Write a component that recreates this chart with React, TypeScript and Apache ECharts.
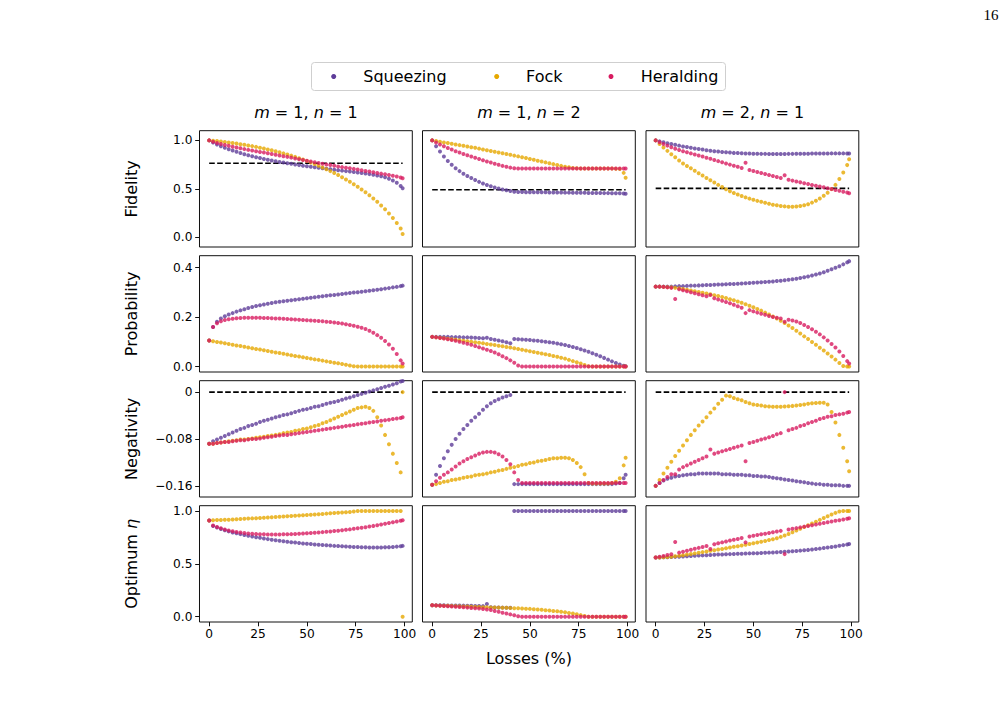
import React, { useEffect, useRef } from "react";
import * as echarts from "echarts";

// Losses (%) at which every series is sampled
const LOSSES = [0,2,4,6,8,10,12,14,16,18,20,22,24,26,28,30,32,34,36,38,40,42,44,46,48,50,52,54,56,58,60,62,64,66,68,70,72,74,76,78,80,82,84,86,88,90,92,94,96,98,99];

const X_TICKS = [0, 25, 50, 75, 100];
const FID_TICKS = [0, 0.5, 1.0];
const PROB_TICKS = [0, 0.2, 0.4];
const NEG_TICKS = [-0.16, -0.08, 0];
const ETA_TICKS = [0, 0.5, 1.0];

const COL_TITLES = [["1", "1"], ["1", "2"], ["2", "1"]];
const SERIES_NAMES = ["Squeezing", "Fock", "Heralding"];
const SERIES_COLORS = ["#5e3c99", "#e6a800", "#d81b60"];
const FID_THRESHOLDS = [0.764, 0.49, 0.505];
const NEG_THRESHOLDS = [0, 0, 0];

// ---------- Fidelity ----------
const fid_sq_1 = [1.000,0.978,0.958,0.940,0.924,0.909,0.895,0.882,0.869,0.857,
0.846,0.836,0.827,0.818,0.809,0.800,0.792,0.785,0.778,0.771,
0.764,0.758,0.751,0.745,0.739,0.733,0.728,0.723,0.718,0.713,
0.708,0.703,0.698,0.693,0.688,0.683,0.678,0.673,0.668,0.663,
0.658,0.652,0.646,0.638,0.630,0.619,0.605,0.587,0.563,0.530,0.507];
const fid_fo_1 = [1.000,0.997,0.993,0.989,0.984,0.979,0.973,0.967,0.961,0.955,
0.948,0.941,0.933,0.925,0.916,0.907,0.898,0.888,0.877,0.866,
0.855,0.843,0.830,0.816,0.802,0.787,0.771,0.755,0.738,0.720,
0.702,0.683,0.663,0.642,0.620,0.597,0.573,0.548,0.522,0.494,
0.465,0.434,0.401,0.366,0.329,0.289,0.246,0.199,0.148,0.090,0.035];
const fid_he_1 = [1.000,0.986,0.974,0.963,0.953,0.944,0.935,0.926,0.918,0.910,
0.902,0.895,0.888,0.881,0.874,0.867,0.860,0.852,0.845,0.837,
0.830,0.822,0.814,0.806,0.798,0.790,0.782,0.774,0.766,0.759,
0.752,0.745,0.738,0.731,0.724,0.718,0.712,0.706,0.699,0.692,
0.685,0.678,0.671,0.664,0.657,0.650,0.643,0.635,0.627,0.618,0.610];
const fid_sq_2 = [1.000,0.940,0.886,0.834,0.788,0.748,0.713,0.683,0.656,0.633,
0.611,0.591,0.572,0.555,0.540,0.527,0.515,0.504,0.494,0.485,
0.477,0.470,0.468,0.467,0.466,0.466,0.465,0.465,0.464,0.464,
0.463,0.463,0.462,0.462,0.461,0.461,0.460,0.460,0.459,0.459,
0.458,0.458,0.457,0.457,0.456,0.456,0.455,0.455,0.454,0.452,0.450];
const fid_fo_2 = [1.000,0.993,0.986,0.979,0.972,0.965,0.958,0.951,0.944,0.937,
0.930,0.923,0.915,0.907,0.899,0.891,0.883,0.875,0.867,0.859,
0.851,0.843,0.835,0.827,0.818,0.809,0.800,0.791,0.782,0.773,
0.764,0.755,0.746,0.737,0.729,0.722,0.716,0.712,0.710,0.709,
0.709,0.709,0.709,0.709,0.709,0.709,0.709,0.708,0.704,0.665,0.615];
const fid_he_2 = [1.000,0.978,0.958,0.939,0.922,0.905,0.889,0.874,0.860,0.846,
0.833,0.820,0.807,0.795,0.783,0.771,0.759,0.748,0.737,0.727,
0.719,0.713,0.710,0.709,0.709,0.709,0.709,0.709,0.709,0.709,
0.709,0.709,0.709,0.709,0.709,0.709,0.709,0.709,0.709,0.709,
0.709,0.709,0.709,0.709,0.709,0.709,0.709,0.709,0.709,0.709,0.709];
const fid_sq_3 = [1.000,0.990,0.980,0.971,0.962,0.954,0.946,0.938,0.931,0.924,
0.917,0.911,0.905,0.899,0.894,0.889,0.885,0.881,0.877,0.874,
0.871,0.869,0.867,0.865,0.864,0.863,0.862,0.861,0.861,0.860,
0.860,0.860,0.860,0.860,0.861,0.861,0.862,0.862,0.863,0.863,
0.864,0.864,0.865,0.865,0.865,0.866,0.866,0.866,0.866,0.865,0.864];
const fid_fo_3 = [1.000,0.963,0.927,0.892,0.858,0.825,0.793,0.762,0.735,0.712,
0.687,0.662,0.637,0.613,0.589,0.565,0.541,0.518,0.496,0.476,
0.458,0.441,0.426,0.412,0.399,0.387,0.376,0.366,0.356,0.346,
0.337,0.330,0.324,0.319,0.316,0.315,0.317,0.322,0.330,0.342,
0.358,0.377,0.401,0.428,0.460,0.497,0.541,0.601,0.669,0.745,0.805];
const fid_he_3 = [1.000,0.980,0.962,0.946,0.930,0.913,0.900,0.888,0.877,0.866,
0.855,0.844,0.833,0.821,0.810,0.798,0.786,0.774,0.762,0.750,
0.738,0.727,0.715,0.770,0.694,0.684,0.673,0.663,0.653,0.643,
0.633,0.623,0.613,0.640,0.594,0.585,0.576,0.567,0.558,0.549,
0.540,0.532,0.524,0.516,0.507,0.498,0.489,0.480,0.471,0.462,0.455];

// ---------- Probability ----------
const prob_sq_1 = [0.105,0.160,0.181,0.194,0.203,0.210,0.216,0.222,0.227,0.232,
0.237,0.241,0.245,0.248,0.251,0.254,0.257,0.260,0.262,0.264,
0.266,0.268,0.270,0.272,0.274,0.276,0.278,0.280,0.282,0.284,
0.286,0.288,0.289,0.291,0.293,0.295,0.297,0.299,0.300,0.302,
0.304,0.306,0.308,0.310,0.312,0.315,0.317,0.320,0.322,0.325,0.327];
const prob_fo_1 = [0.105,0.102,0.099,0.097,0.094,0.091,0.088,0.085,0.083,0.080,
0.077,0.074,0.071,0.069,0.066,0.063,0.060,0.057,0.055,0.052,
0.049,0.046,0.043,0.041,0.038,0.035,0.032,0.029,0.027,0.024,
0.021,0.018,0.015,0.013,0.010,0.007,0.004,0.001,0,0,
0,0,0,0,0,0,0,0,0,0,0];
const prob_he_1 = [0.105,0.160,0.175,0.183,0.188,0.191,0.193,0.195,0.196,0.197,
0.197,0.197,0.197,0.197,0.196,0.196,0.195,0.194,0.194,0.193,
0.192,0.191,0.190,0.189,0.188,0.187,0.186,0.185,0.184,0.183,
0.181,0.180,0.178,0.176,0.174,0.171,0.168,0.165,0.161,0.157,
0.152,0.145,0.137,0.127,0.116,0.103,0.089,0.072,0.051,0.025,0.012];
const prob_sq_2 = [0.120,0.120,0.120,0.120,0.120,0.119,0.119,0.119,0.118,0.118,
0.117,0.116,0.115,0.114,0.116,0.111,0.108,0.105,0.102,0.098,
0.094,0.111,0.110,0.109,0.108,0.107,0.105,0.104,0.102,0.100,
0.098,0.096,0.093,0.090,0.087,0.083,0.079,0.075,0.070,0.065,
0.060,0.054,0.048,0.042,0.035,0.028,0.021,0.014,0.008,0.003,0.001];
const prob_fo_2 = [0.120,0.118,0.116,0.114,0.112,0.110,0.108,0.106,0.104,0.102,
0.100,0.098,0.096,0.094,0.091,0.089,0.087,0.084,0.082,0.079,
0.077,0.074,0.071,0.068,0.065,0.062,0.059,0.056,0.053,0.050,
0.047,0.043,0.040,0.036,0.032,0.027,0.022,0.017,0.012,0.006,
0.001,0,0,0,0,0,0,0,0,0,0];
const prob_he_2 = [0.120,0.118,0.115,0.113,0.110,0.107,0.104,0.100,0.096,0.092,
0.088,0.083,0.078,0.073,0.068,0.063,0.057,0.050,0.042,0.034,
0.025,0.015,0.004,0,0,0,0,0,0,0,
0,0,0,0,0,0,0,0,0,0,
0,0,0,0,0,0,0,0,0,0,0];
const prob_sq_3 = [0.323,0.323,0.323,0.323,0.323,0.324,0.325,0.325,0.326,0.327,
0.327,0.328,0.329,0.330,0.330,0.331,0.332,0.332,0.333,0.334,
0.334,0.335,0.336,0.337,0.338,0.339,0.340,0.341,0.342,0.343,
0.344,0.346,0.347,0.349,0.351,0.353,0.355,0.358,0.361,0.364,
0.368,0.372,0.376,0.381,0.387,0.393,0.399,0.405,0.413,0.421,0.426];
const prob_fo_3 = [0.323,0.323,0.322,0.321,0.320,0.318,0.316,0.313,0.310,0.307,
0.304,0.301,0.298,0.295,0.292,0.288,0.285,0.281,0.277,0.272,
0.268,0.263,0.258,0.252,0.246,0.240,0.233,0.226,0.218,0.210,
0.202,0.194,0.185,0.176,0.166,0.156,0.145,0.134,0.122,0.111,
0.099,0.088,0.076,0.065,0.053,0.041,0.028,0.014,0.002,0,0];
const prob_he_3 = [0.323,0.323,0.322,0.320,0.318,0.273,0.312,0.308,0.304,0.300,
0.296,0.292,0.288,0.284,0.289,0.276,0.271,0.266,0.261,0.256,
0.250,0.244,0.238,0.216,0.228,0.223,0.218,0.213,0.209,0.204,
0.200,0.197,0.194,0.181,0.189,0.186,0.182,0.176,0.168,0.160,
0.151,0.141,0.130,0.118,0.105,0.091,0.077,0.061,0.043,0.022,0.012];

// ---------- Negativity ----------
const neg_sq_1 = [-0.088,-0.084,-0.081,-0.078,-0.075,-0.072,-0.069,-0.066,-0.063,-0.061,
-0.058,-0.056,-0.054,-0.051,-0.049,-0.047,-0.045,-0.043,-0.041,-0.039,
-0.038,-0.036,-0.034,-0.032,-0.030,-0.029,-0.027,-0.025,-0.024,-0.022,
-0.020,-0.018,-0.017,-0.015,-0.013,-0.011,-0.009,-0.007,-0.005,-0.003,
-0.001,0.001,0.003,0.005,0.007,0.009,0.011,0.013,0.015,0.018,0.019];
const neg_fo_1 = [-0.088,-0.088,-0.087,-0.086,-0.085,-0.084,-0.083,-0.082,-0.081,-0.081,
-0.080,-0.079,-0.078,-0.077,-0.076,-0.075,-0.074,-0.073,-0.072,-0.070,
-0.069,-0.068,-0.066,-0.065,-0.063,-0.062,-0.060,-0.058,-0.056,-0.053,
-0.051,-0.048,-0.045,-0.042,-0.039,-0.036,-0.033,-0.030,-0.027,-0.026,
-0.025,-0.027,-0.032,-0.043,-0.057,-0.073,-0.089,-0.105,-0.121,-0.137,0];
const neg_he_1 = [-0.088,-0.088,-0.087,-0.086,-0.085,-0.085,-0.084,-0.083,-0.082,-0.082,
-0.081,-0.080,-0.080,-0.079,-0.078,-0.077,-0.076,-0.075,-0.074,-0.073,
-0.073,-0.072,-0.071,-0.070,-0.069,-0.068,-0.067,-0.066,-0.065,-0.064,
-0.063,-0.062,-0.061,-0.060,-0.059,-0.058,-0.057,-0.056,-0.055,-0.054,
-0.053,-0.052,-0.051,-0.050,-0.049,-0.048,-0.047,-0.046,-0.045,-0.044,-0.043];
const neg_sq_2 = [-0.158,-0.141,-0.126,-0.113,-0.101,-0.090,-0.080,-0.071,-0.063,-0.056,
-0.049,-0.043,-0.037,-0.030,-0.024,-0.019,-0.015,-0.012,-0.009,-0.007,
-0.005,-0.157,-0.157,-0.157,-0.157,-0.157,-0.157,-0.157,-0.157,-0.157,
-0.157,-0.157,-0.157,-0.157,-0.157,-0.157,-0.157,-0.157,-0.157,-0.157,
-0.157,-0.157,-0.157,-0.157,-0.157,-0.157,-0.157,-0.156,-0.155,-0.147,-0.141];
const neg_fo_2 = [-0.158,-0.157,-0.155,-0.153,-0.152,-0.150,-0.149,-0.148,-0.146,-0.145,
-0.144,-0.142,-0.141,-0.140,-0.139,-0.137,-0.136,-0.134,-0.133,-0.131,
-0.129,-0.128,-0.126,-0.124,-0.123,-0.121,-0.120,-0.118,-0.117,-0.116,
-0.114,-0.113,-0.113,-0.112,-0.112,-0.113,-0.116,-0.121,-0.128,-0.140,
-0.155,-0.156,-0.156,-0.156,-0.156,-0.156,-0.155,-0.153,-0.147,-0.125,-0.112];
const neg_he_2 = [-0.158,-0.152,-0.146,-0.141,-0.137,-0.132,-0.127,-0.122,-0.118,-0.114,
-0.111,-0.108,-0.105,-0.103,-0.102,-0.102,-0.103,-0.106,-0.110,-0.116,
-0.123,-0.137,-0.150,-0.155,-0.155,-0.155,-0.155,-0.155,-0.155,-0.155,
-0.155,-0.155,-0.155,-0.155,-0.155,-0.155,-0.155,-0.155,-0.155,-0.155,
-0.155,-0.155,-0.155,-0.155,-0.155,-0.155,-0.155,-0.155,-0.155,-0.155,-0.155];
const neg_sq_3 = [-0.160,-0.155,-0.151,-0.148,-0.146,-0.144,-0.143,-0.142,-0.141,-0.140,
-0.140,-0.139,-0.139,-0.139,-0.139,-0.139,-0.139,-0.140,-0.140,-0.140,
-0.141,-0.141,-0.141,-0.142,-0.142,-0.143,-0.143,-0.144,-0.144,-0.145,
-0.146,-0.147,-0.148,-0.149,-0.150,-0.151,-0.152,-0.153,-0.154,-0.155,
-0.156,-0.157,-0.157,-0.158,-0.158,-0.159,-0.159,-0.159,-0.160,-0.160,-0.160];
const neg_fo_3 = [-0.160,-0.150,-0.139,-0.129,-0.119,-0.109,-0.100,-0.091,-0.082,-0.073,
-0.065,-0.057,-0.050,-0.043,-0.035,-0.028,-0.020,-0.013,-0.006,-0.007,
-0.010,-0.012,-0.014,-0.017,-0.019,-0.021,-0.022,-0.023,-0.024,-0.0245,
-0.025,-0.025,-0.025,-0.0245,-0.024,-0.0235,-0.023,-0.022,-0.021,-0.020,
-0.019,-0.0185,-0.018,-0.018,-0.021,-0.034,-0.052,-0.073,-0.095,-0.118,-0.135];
const neg_he_3 = [-0.160,-0.155,-0.150,-0.145,-0.140,-0.140,-0.132,-0.128,-0.125,-0.122,
-0.119,-0.116,-0.113,-0.110,-0.098,-0.105,-0.103,-0.101,-0.099,-0.097,
-0.095,-0.093,-0.091,-0.118,-0.087,-0.085,-0.083,-0.081,-0.079,-0.077,
-0.075,-0.072,-0.070,0.000,-0.065,-0.063,-0.061,-0.058,-0.056,-0.053,
-0.051,-0.049,-0.046,-0.044,-0.042,-0.041,-0.039,-0.038,-0.037,-0.035,-0.034];

// ---------- Optimum eta ----------
const eta_sq_1 = [0.911,0.858,0.843,0.830,0.818,0.807,0.797,0.789,0.781,0.773,
0.766,0.759,0.752,0.746,0.740,0.734,0.728,0.723,0.718,0.713,
0.709,0.705,0.701,0.697,0.693,0.690,0.687,0.684,0.681,0.678,
0.675,0.673,0.670,0.668,0.666,0.664,0.662,0.660,0.659,0.657,
0.656,0.655,0.655,0.655,0.655,0.656,0.658,0.660,0.663,0.667,0.670];
const eta_fo_1 = [0.911,0.912,0.914,0.915,0.917,0.918,0.920,0.922,0.924,0.926,
0.928,0.930,0.932,0.934,0.936,0.938,0.940,0.943,0.945,0.947,
0.950,0.952,0.955,0.957,0.960,0.962,0.965,0.967,0.970,0.972,
0.975,0.978,0.980,0.983,0.986,0.988,0.991,0.995,1.0,1.0,
1.0,1.0,1.0,1.0,1.0,1.0,1.0,1.0,1.0,1.0,0.0];
const eta_he_1 = [0.911,0.862,0.849,0.836,0.825,0.816,0.808,0.802,0.797,0.792,
0.788,0.785,0.782,0.780,0.779,0.778,0.778,0.778,0.778,0.779,
0.780,0.781,0.783,0.785,0.787,0.789,0.791,0.794,0.797,0.800,
0.803,0.806,0.810,0.814,0.818,0.822,0.826,0.831,0.836,0.841,
0.847,0.853,0.859,0.865,0.872,0.879,0.886,0.893,0.900,0.908,0.913];
const eta_sq_2 = [0.108,0.108,0.108,0.108,0.107,0.107,0.106,0.106,0.105,0.104,
0.103,0.102,0.101,0.100,0.120,0.090,0.088,0.087,0.086,0.085,
0.084,1.0,1.0,1.0,1.0,1.0,1.0,1.0,1.0,1.0,
1.0,1.0,1.0,1.0,1.0,1.0,1.0,1.0,1.0,1.0,
1.0,1.0,1.0,1.0,1.0,1.0,1.0,1.0,1.0,1.0,1.0];
const eta_fo_2 = [0.108,0.107,0.105,0.104,0.103,0.101,0.100,0.098,0.097,0.096,
0.094,0.093,0.092,0.090,0.089,0.088,0.087,0.086,0.085,0.084,
0.083,0.081,0.080,0.078,0.076,0.074,0.071,0.068,0.065,0.062,
0.059,0.055,0.051,0.047,0.042,0.036,0.030,0.023,0.015,0.007,
0,0,0,0,0,0,0,0,0,0,0];
const eta_he_2 = [0.108,0.106,0.104,0.102,0.099,0.097,0.094,0.092,0.089,0.086,
0.083,0.080,0.077,0.073,0.069,0.063,0.055,0.046,0.038,0.030,
0.022,0.013,0.004,0,0,0,0,0,0,0,
0,0,0,0,0,0,0,0,0,0,
0,0,0,0,0,0,0,0,0,0,0];
const eta_sq_3 = [0.560,0.561,0.562,0.563,0.564,0.566,0.568,0.570,0.572,0.574,
0.576,0.578,0.580,0.582,0.584,0.586,0.588,0.589,0.591,0.592,
0.593,0.595,0.596,0.597,0.599,0.600,0.601,0.603,0.604,0.606,
0.608,0.610,0.612,0.614,0.616,0.619,0.622,0.625,0.628,0.632,
0.636,0.640,0.644,0.649,0.654,0.659,0.665,0.671,0.677,0.684,0.687];
const eta_fo_3 = [0.560,0.561,0.563,0.565,0.568,0.572,0.577,0.582,0.588,0.593,
0.599,0.605,0.611,0.617,0.623,0.629,0.635,0.641,0.648,0.655,
0.661,0.667,0.673,0.680,0.687,0.694,0.701,0.709,0.717,0.725,
0.733,0.743,0.755,0.768,0.783,0.799,0.815,0.831,0.848,0.865,
0.882,0.899,0.916,0.933,0.950,0.966,0.982,0.996,1.0,1.0,1.0];
const eta_he_3 = [0.560,0.568,0.575,0.583,0.590,0.706,0.606,0.615,0.624,0.633,
0.642,0.651,0.660,0.669,0.640,0.686,0.695,0.703,0.712,0.720,
0.728,0.736,0.744,0.703,0.758,0.765,0.772,0.779,0.785,0.791,
0.798,0.805,0.812,0.592,0.825,0.832,0.838,0.845,0.852,0.858,
0.866,0.873,0.880,0.887,0.894,0.900,0.907,0.913,0.920,0.927,0.931];

const ROWS = [
  { label: "Fidelity", min: -0.1, max: 1.1, ticks: FID_TICKS, fmt: (v: number) => v.toFixed(1),
    data: [[fid_sq_1, fid_fo_1, fid_he_1], [fid_sq_2, fid_fo_2, fid_he_2], [fid_sq_3, fid_fo_3, fid_he_3]],
    thresholds: FID_THRESHOLDS },
  { label: "Probability", min: -0.022, max: 0.448, ticks: PROB_TICKS, fmt: (v: number) => v.toFixed(1),
    data: [[prob_sq_1, prob_fo_1, prob_he_1], [prob_sq_2, prob_fo_2, prob_he_2], [prob_sq_3, prob_fo_3, prob_he_3]],
    thresholds: null },
  { label: "Negativity", min: -0.179, max: 0.0195, ticks: NEG_TICKS,
    fmt: (v: number) => (Math.abs(v) < 1e-9 ? "0" : "\u2212" + Math.abs(v).toFixed(2)),
    data: [[neg_sq_1, neg_fo_1, neg_he_1], [neg_sq_2, neg_fo_2, neg_he_2], [neg_sq_3, neg_fo_3, neg_he_3]],
    thresholds: NEG_THRESHOLDS },
  { label: "Optimum", min: -0.05, max: 1.05, ticks: ETA_TICKS, fmt: (v: number) => v.toFixed(1),
    data: [[eta_sq_1, eta_fo_1, eta_he_1], [eta_sq_2, eta_fo_2, eta_he_2], [eta_sq_3, eta_fo_3, eta_he_3]],
    thresholds: null },
];

const FONT = "DejaVu Sans";

export default function App() {
  const ref = useRef<HTMLDivElement>(null);
  useEffect(() => {
    if (!ref.current) return;
    const chart = echarts.init(ref.current, null, { renderer: "svg" });
    const colLeft = [199.5, 422.5, 646];
    const rowTop = [130.7, 255.7, 380.7, 505.7];
    const W = 212.8;
    const H = 116.3;
    const grids: any[] = [];
    const xAxes: any[] = [];
    const yAxes: any[] = [];
    const series: any[] = [];
    ROWS.forEach((row, r) => {
      [0, 1, 2].forEach((c) => {
        const p = r * 3 + c;
        grids.push({
          left: colLeft[c], top: rowTop[r], width: W, height: H,
          show: true, borderColor: "#111", borderWidth: 1, backgroundColor: "transparent",
          containLabel: false, outerBoundsMode: "none",
        });
        xAxes.push({
          gridIndex: p, type: "value", min: -4.95, max: 103.95, position: "bottom",
          axisLine: { show: false, onZero: false }, splitLine: { show: false },
          axisTick: { show: r === 3, inside: false, customValues: X_TICKS, length: 4.3, lineStyle: { color: "#111", width: 1 } },
          axisLabel: { show: r === 3, customValues: X_TICKS, margin: 6, fontSize: 12.2, color: "#000", fontFamily: FONT },
        });
        yAxes.push({
          gridIndex: p, type: "value", min: row.min, max: row.max, position: "left",
          axisLine: { show: false, onZero: false }, splitLine: { show: false },
          axisTick: { show: c === 0, inside: false, customValues: row.ticks, length: 4.3, lineStyle: { color: "#111", width: 1 } },
          axisLabel: { show: c === 0, customValues: row.ticks, margin: 7, fontSize: 12.2, color: "#000", fontFamily: FONT,
            formatter: (v: number) => row.fmt(v) },
        });
        if (row.thresholds) {
          const t = row.thresholds[c];
          series.push({
            type: "line", xAxisIndex: p, yAxisIndex: p, data: [[LOSSES[0], t], [LOSSES[LOSSES.length - 1], t]],
            symbol: "none", silent: true, z: 1,
            lineStyle: { color: "#000", width: 1.6, type: [5.6, 2.4] },
          });
        }
        row.data[c].forEach((vals, k) => {
          series.push({
            type: "scatter", name: SERIES_NAMES[k], xAxisIndex: p, yAxisIndex: p,
            data: LOSSES.map((x, i) => [x, vals[i]]),
            symbolSize: 4, silent: true, z: 2 + k,
            itemStyle: { color: SERIES_COLORS[k] },
          });
        });
      });
    });

    const graphic: any[] = [];
    // column titles
    COL_TITLES.forEach((t, c) => {
      graphic.push({
        type: "text", x: colLeft[c] + W / 2, y: 112.5,
        style: {
          text: `{i|m}{r| = ${t[0]}, }{i|n}{r| = ${t[1]}}`,
          align: "center", verticalAlign: "middle", fill: "#000",
          rich: {
            i: { fontStyle: "italic", fontFamily: FONT, fontSize: 16, fill: "#000" },
            r: { fontFamily: FONT, fontSize: 16, fill: "#000" },
          },
        },
      });
    });
    // row labels
    ROWS.forEach((row, r) => {
      graphic.push({
        type: "text", x: 131, y: rowTop[r] + H / 2, rotation: Math.PI / 2,
        style: r === 3
          ? {
              text: "{r|Optimum }{i|η}", align: "center", verticalAlign: "middle",
              rich: {
                r: { fontFamily: FONT, fontSize: 16, fill: "#000" },
                i: { fontFamily: FONT, fontSize: 16, fontStyle: "italic", fill: "#000" },
              },
            }
          : { text: row.label, align: "center", verticalAlign: "middle", fontFamily: FONT, fontSize: 16, fill: "#000" },
      });
    });
    // x label
    graphic.push({
      type: "text", x: colLeft[1] + W / 2, y: 658,
      style: { text: "Losses (%)", align: "center", verticalAlign: "middle", fontFamily: FONT, fontSize: 16, fill: "#000" },
    });
    // legend
    graphic.push({
      type: "rect", shape: { x: 311.5, y: 62.5, width: 414, height: 28, r: 3 },
      style: { fill: "#fff", stroke: "#cfcfcf", lineWidth: 1 },
    });
    const legendDotX = [333.7, 496.7, 611];
    const legendTextX = [363.3, 526, 640.7];
    SERIES_NAMES.forEach((n, k) => {
      graphic.push({ type: "circle", shape: { cx: legendDotX[k], cy: 76.5, r: 2.5 }, style: { fill: SERIES_COLORS[k] } });
      graphic.push({
        type: "text", x: legendTextX[k], y: 76.5,
        style: { text: n, align: "left", verticalAlign: "middle", fontFamily: FONT, fontSize: 16, fill: "#000" },
      });
    });
    // page number
    graphic.push({
      type: "text", x: 991, y: 15,
      style: { text: "16", align: "center", verticalAlign: "middle", fontFamily: "Liberation Serif", fontSize: 15, fill: "#000" },
    });

    chart.setOption({
      animation: false,
      backgroundColor: "#fff",
      grid: grids,
      xAxis: xAxes,
      yAxis: yAxes,
      series,
      graphic,
    });
    return () => chart.dispose();
  }, []);
  return (
    <div
      ref={ref}
      style={{ position: "absolute", left: 0, top: 0, width: 1007, height: 706, background: "#fff" }}
    />
  );
}
